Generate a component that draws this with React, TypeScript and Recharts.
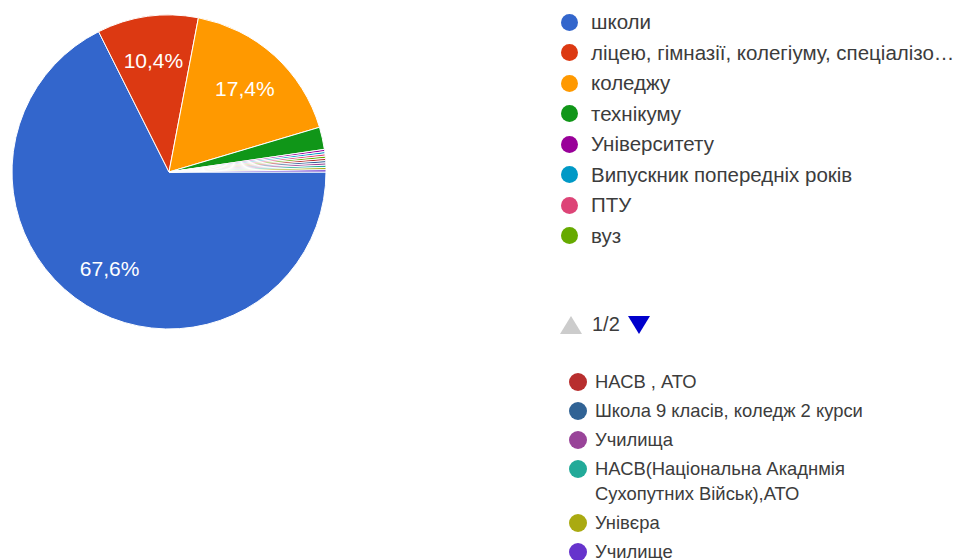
import { PieChart, Pie, Cell } from "recharts";

// перша сторінка легенди
const names = [
  "школи",
  "ліцею, гімназії, колегіуму, спеціалізованої школи",
  "коледжу",
  "технікуму",
  "Університету",
  "Випускник попередніх років",
  "ПТУ",
  "вуз",
];
const shares = [67.6, 10.4, 17.4, 2.3, 0.23, 0.23, 0.23, 0.23];
const colors = ["#3366cc", "#dc3912", "#ff9900", "#109618", "#990099", "#0099c6", "#dd4477", "#66aa00"];

// друга сторінка
const names2 = [
  "НАСВ , АТО",
  "Школа 9 класів, коледж 2 курси",
  "Училища",
  "НАСВ(Національна Акаднмія Сухопутних Військ),АТО",
  "Унівєра",
  "Училище",
];
const shares2 = [0.23, 0.23, 0.23, 0.23, 0.23, 0.23];
const colors2 = ["#b82e2e", "#316395", "#994499", "#22aa99", "#aaaa11", "#6633cc"];

const pageLabel = "1/2";

const data = [
  ...names.map((name, i) => ({ name, value: shares[i], color: colors[i] })),
  ...names2.map((name, i) => ({ name, value: shares2[i], color: colors2[i] })),
];

const RAD = Math.PI / 180;
const font = "Arial, 'Liberation Sans', sans-serif";

const renderLabel = (props: any) => {
  const { cx, cy, midAngle, outerRadius, percent } = props;
  if (percent < 0.05) return null;
  const r = outerRadius * 0.72;
  const x = cx + r * Math.cos(-midAngle * RAD);
  const y = cy + r * Math.sin(-midAngle * RAD);
  return (
    <text x={x} y={y} fill="#fff" fontSize={21} fontFamily={font} textAnchor="middle" dominantBaseline="central">
      {(percent * 100).toFixed(1).replace(".", ",") + "%"}
    </text>
  );
};

const truncate = (s: string, n: number) => (s.length > n ? s.slice(0, n) + "…" : s);

export default function App() {
  return (
    <div style={{ position: "absolute", left: 0, top: 0, width: 966, height: 560, background: "#fff", overflow: "hidden", fontFamily: font }}>
      <div style={{ position: "absolute", left: 0, top: 0 }}>
        <PieChart width={340} height={345} margin={{ top: 0, right: 0, bottom: 0, left: 0 }}>
          <Pie
            data={data}
            dataKey="value"
            nameKey="name"
            cx={169}
            cy={172}
            outerRadius={157}
            startAngle={0}
            endAngle={-360}
            stroke="#fff"
            strokeWidth={1}
            label={renderLabel}
            labelLine={false}
            isAnimationActive={false}
          >
            {data.map((d) => (
              <Cell key={d.name} fill={d.color} />
            ))}
          </Pie>
        </PieChart>
      </div>

      <div style={{ position: "absolute", left: 561, top: 7 }}>
        {names.map((n, i) => (
          <div key={n} style={{ display: "flex", alignItems: "center", height: 30.5, fontSize: 20.5, color: "#3c3c3c", whiteSpace: "nowrap" }}>
            <span style={{ width: 17, height: 17, borderRadius: "50%", background: colors[i], marginRight: 13, flexShrink: 0 }} />
            {truncate(n, 38)}
          </div>
        ))}
      </div>

      <div style={{ position: "absolute", left: 560, top: 313, display: "flex", alignItems: "center", fontSize: 20, color: "#3c3c3c" }}>
        <svg width={22} height={20}>
          <polygon points="11,1 22,19 0,19" fill="#ccc" />
        </svg>
        <span style={{ margin: "0 8px 0 10px" }}>{pageLabel}</span>
        <svg width={22} height={20}>
          <polygon points="0,1 22,1 11,19" fill="#0000cc" />
        </svg>
      </div>

      <div style={{ position: "absolute", left: 569, top: 369, width: 340 }}>
        {names2.map((n, i) => (
          <div key={n} style={{ display: "flex", alignItems: "flex-start", fontSize: 18.4, lineHeight: "25px", color: "#3c3c3c", marginBottom: 4 }}>
            <span style={{ width: 18, height: 18, borderRadius: "50%", background: colors2[i], marginRight: 8, marginTop: 4, flexShrink: 0 }} />
            <span>{n}</span>
          </div>
        ))}
      </div>
    </div>
  );
}
